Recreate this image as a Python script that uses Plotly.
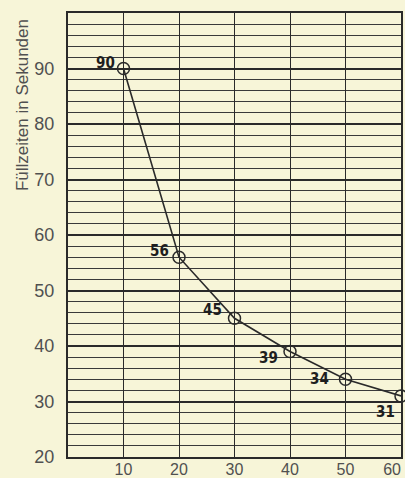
import plotly.graph_objects as go

x_vals = [10, 20, 30, 40, 50, 60]
y_vals = [90, 56, 45, 39, 34, 31]
point_labels = ["90", "56", "45", "39", "34", "31"]
x_ticks = [10, 20, 30, 40, 50, 60]
x_tick_text = ["10", "20", "30", "40", "50", "60"]
y_ticks = [20, 30, 40, 50, 60, 70, 80, 90]
y_title = "Füllzeiten in Sekunden"

# label offsets (pixels) relative to each marker, style only
label_dx = [-7, -8, -11, -10, -15, -4]
label_dy = [6, 6, 8, -6, 0, -16]

bg = "#f7f5d8"
ink = "#2a2a2a"

# last tick label sits at the page edge in the original: pad it so it stays visible
x_tick_display = x_tick_text[:-1] + [x_tick_text[-1] + "\u00a0" * 4]

fig = go.Figure()
fig.add_trace(go.Scatter(
    x=x_vals, y=y_vals, mode="lines+markers",
    line=dict(color=ink, width=1.6),
    marker=dict(symbol="circle-open", size=12, color=ink, line=dict(width=1.5)),
    cliponaxis=False, showlegend=False,
))

for xv, yv, t, dx, dy in zip(x_vals, y_vals, point_labels, label_dx, label_dy):
    fig.add_annotation(
        x=xv, y=yv, text=t, showarrow=False,
        xanchor="right", yanchor="middle", xshift=dx, yshift=dy,
        font=dict(family="DejaVu Sans Condensed, Liberation Sans Narrow, Arial", size=15,
                  color="#1e1e1e", weight="bold"),
    )

fig.update_layout(
    width=405, height=478,
    margin=dict(l=68, r=4, t=13, b=21, autoexpand=False),
    paper_bgcolor=bg, plot_bgcolor=bg,
    font=dict(family="Liberation Sans, Arial, sans-serif", size=18, color="#505050"),
    xaxis=dict(
        range=[0, 60], tickvals=x_ticks, ticktext=x_tick_display,
        showgrid=True, gridcolor=ink, gridwidth=1.3,
        showline=True, linecolor=ink, linewidth=2, mirror=True,
        ticks="", zeroline=False, ticklabelstandoff=-3, automargin=False,
        ticklabeloverflow="allow", tickfont=dict(size=16),
    ),
    yaxis=dict(
        range=[20, 100], tickvals=y_ticks, showgrid=True, gridcolor=ink, gridwidth=2.2,
        showline=True, linecolor=ink, linewidth=2, mirror=True,
        ticks="", zeroline=False, ticklabelstandoff=8, automargin=False,
        ticklabeloverflow="allow",
        minor=dict(dtick=2, showgrid=True, gridcolor="#3a3a3a", gridwidth=1),
    ),
)

fig.add_annotation(
    xref="paper", yref="paper", x=-0.138, y=1.0, xanchor="center", yanchor="top",
    text=y_title, textangle=-90, showarrow=False, yshift=-4,
    font=dict(family="Liberation Sans, Arial, sans-serif", size=17, color="#505050"),
)

fig.write_html(
    "out.html",
    config={"displayModeBar": False},
    post_script="document.body.style.margin='0';document.body.style.background='" + bg + "';document.body.style.overflow='hidden';",
)
